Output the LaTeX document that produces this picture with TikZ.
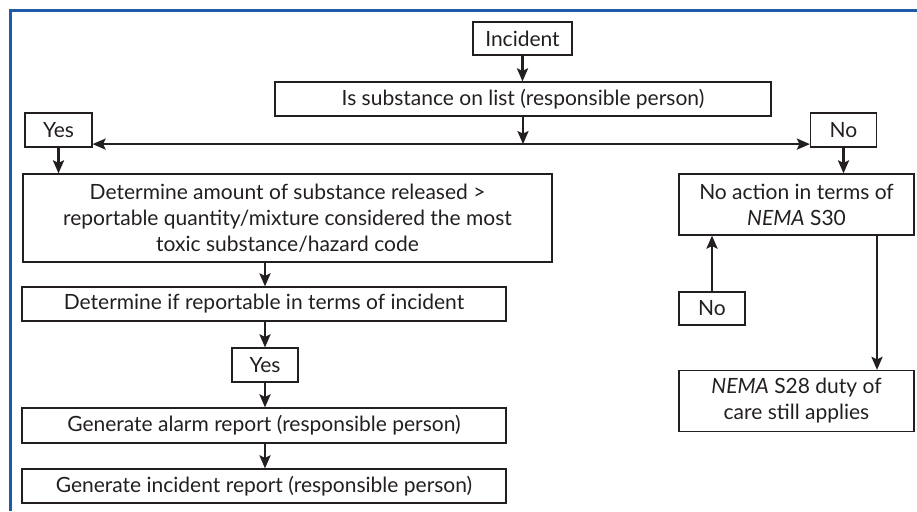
\documentclass[tikz,border=0pt]{standalone}
\usepackage{fontspec}
\setmainfont{Lato}
\usetikzlibrary{arrows.meta,calc}
\definecolor{ink}{HTML}{231F20}
\definecolor{frameblue}{HTML}{1F5BAA}
\begin{document}
\begin{tikzpicture}[x=1pt,y=-1pt,
  box/.style={draw=ink,line width=1.2pt,text=ink,inner sep=0pt,align=center,
    font=\fontsize{21}{26}\selectfont},
  conn/.style={draw=ink,line width=2.4pt,-{Stealth[length=13pt,width=11pt,inset=2.5pt]}},
  bothconn/.style={draw=ink,line width=2.4pt,{Stealth[length=13pt,width=11pt,inset=2.5pt]}-{Stealth[length=13pt,width=11pt,inset=2.5pt]}}]
\useasboundingbox (0,0) rectangle (917,511);
\draw[frameblue,line width=3pt] (917,11) -- (10,11) -- (10,511);

\node[box,minimum width=99pt,minimum height=33pt] (inc) at (522.5,38.5) {Incident};
\node[box,minimum width=496pt,minimum height=34pt] (q) at (523,99) {Is substance on list (responsible person)};
\node[box,minimum width=67pt,minimum height=34pt] (yes1) at (58.5,130) {Yes};
\node[box,minimum width=66pt,minimum height=34pt] (no1) at (843.5,130) {No};
\node[box,minimum width=529pt,minimum height=88pt] (det) at (287.5,218)
  {Determine amount of substance released >\\reportable quantity/mixture considered the most\\toxic substance/hazard code};
\node[box,minimum width=484pt,minimum height=34pt] (rep) at (264,304) {Determine if reportable in terms of incident};
\node[box,minimum width=66pt,minimum height=34pt] (yes2) at (265,365) {Yes};
\node[box,minimum width=484pt,minimum height=35pt] (alarm) at (264,425.5) {Generate alarm report (responsible person)};
\node[box,minimum width=484pt,minimum height=34pt] (increp) at (264,486) {Generate incident report (responsible person)};
\node[box,minimum width=235pt,minimum height=61pt] (noact) at (796.5,204.5) {No action in terms of\\\textit{NEMA} S30};
\node[box,minimum width=66pt,minimum height=33pt] (no2) at (712,308.5) {No};
\node[box,minimum width=235pt,minimum height=61pt] (nema) at (796.5,401) {\textit{NEMA} S28 duty of\\care still applies};

\coordinate (hl) at ([yshift=3.5pt]yes1.south east);
\coordinate (hr) at ([yshift=3.5pt]no1.south west);

\draw[conn] (inc.south) -- (inc.south |- q.north);
\draw[bothconn] (hl) -- (hr);
\draw[conn] (q.south) -- (q.south |- hl);
\draw[conn] (yes1.south) -- (yes1.south |- det.north);
\draw[conn] (no1.south) -- (no1.south |- noact.north);
\draw[conn] ([xshift=1pt]rep.north |- det.south) -- ([xshift=1pt]rep.north);
\draw[conn] (rep.south -| yes2.north) -- (yes2.north);
\draw[conn] (yes2.south) -- (yes2.south |- alarm.north);
\draw[conn] (alarm.south -| yes2.south) -- (yes2.south |- increp.north);
\draw[conn] (no2.north) -- (no2.north |- noact.south);
\draw[conn] ([xshift=80.5pt]noact.south) -- ([xshift=80.5pt]nema.north);
\end{tikzpicture}
\end{document}
